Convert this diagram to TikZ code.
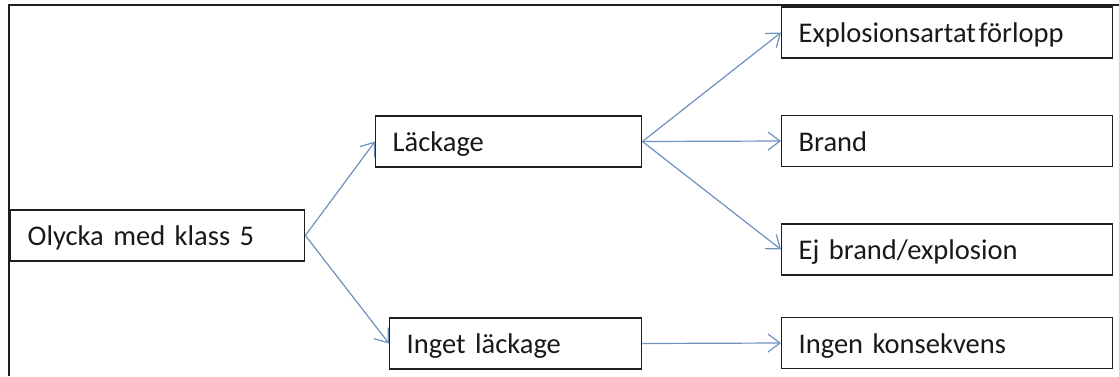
\documentclass[tikz,border=0pt]{standalone}
\usepackage{fontspec}
\setmainfont{Carlito}
\usetikzlibrary{arrows.meta}
\definecolor{arr}{RGB}{110,145,190}
\definecolor{txt}{RGB}{25,25,25}
\definecolor{frm}{RGB}{30,30,30}
\tikzset{
  bx/.style={draw=frm, line width=1.4pt, anchor=west, align=left, inner xsep=17pt, inner ysep=0pt,
    text height=26pt, text depth=6pt, minimum height=51pt, font=\fontsize{28.5pt}{31pt}\selectfont, text=txt},
  conn/.style={draw=arr, line width=1.2pt, -{Straight Barb[length=12pt,width=18pt,line width=1.2pt]}}
}
\begin{document}
\begin{tikzpicture}[x=1pt,y=-1pt]
\useasboundingbox (0,0) rectangle (1119,376);
\coordinate (fa) at (9,376);
\coordinate (fb) at (9,5);
\coordinate (fc) at (1119,5);
\draw[frm, line width=1.5pt] (fa) -- (fb) -- (fc);
\node[bx, minimum width=294pt, text width=260pt] (o) at (10,235.5) {Olycka med klass 5};
\node[bx, minimum width=266pt, text width=232pt] (l) at (375,141.5) {Läckage};
\node[bx, minimum width=252pt, text width=218pt] (il) at (389,343.5) {Inget läckage};
\node[bx, minimum width=331pt, text width=297pt] (e) at (781,32.5) {Explosionsartat\hspace{3pt}förlopp};
\node[bx, minimum width=331pt, text width=297pt] (b) at (781,141) {Brand};
\node[bx, minimum width=331pt, text width=297pt] (ej) at (781,249.5) {Ej brand/explosion};
\node[bx, minimum width=331pt, text width=297pt] (ik) at (781,343) {Ingen konsekvens};
\draw[conn] (o.east) -- (l.west);
\draw[conn] (o.east) -- (il.west);
\draw[conn] (l.east) -- (e.west);
\draw[conn] (l.east) -- (b.west);
\draw[conn] (l.east) -- (ej.west);
\draw[conn] (il.east) -- (ik.west);
\end{tikzpicture}
\end{document}
